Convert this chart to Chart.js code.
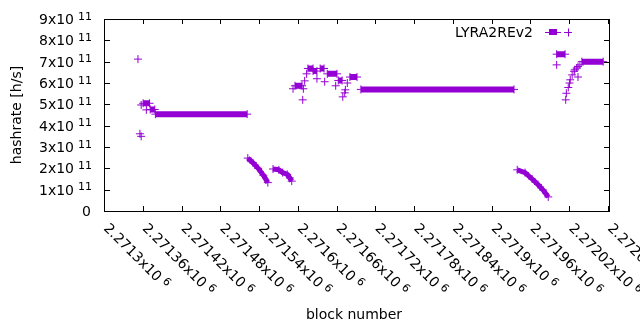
<!DOCTYPE html>
<html lang="en">
<head>
<meta charset="UTF-8">
<title>LYRA2REv2 hashrate</title>
<script src="https://cdn.jsdelivr.net/npm/chart.js"></script>
<style>
  html, body { margin: 0; padding: 0; background: #fff; }
  #chart { display: block; }
</style>
</head>
<body>
<canvas id="chart" width="640" height="330"></canvas>
<script>
const COLOR = '#9400d3';
const FONT = '"DejaVu Sans", sans-serif';

// axes
const blockTicks = [2271300, 2271360, 2271420, 2271480, 2271540, 2271600, 2271660,
                    2271720, 2271780, 2271840, 2271900, 2271960, 2272020, 2272080];
const blockTickLabels = ['2.2713', '2.27136', '2.27142', '2.27148', '2.27154', '2.2716', '2.27166',
                         '2.27172', '2.27178', '2.27184', '2.2719', '2.27196', '2.27202', '2.27208'];
const hashTicks = [0, 1e11, 2e11, 3e11, 4e11, 5e11, 6e11, 7e11, 8e11, 9e11];
const hashTickLabels = ['0', '1', '2', '3', '4', '5', '6', '7', '8', '9'];

// stretches where the hashrate stays constant: first block, last block, value
const runStart = [2271359, 2271370, 2271378, 2271594, 2271614, 2271622, 2271633, 2271644, 2271661, 2271679, 2271696, 2271999, 2272038];
const runEnd   = [2271369, 2271377, 2271520, 2271605, 2271622, 2271628, 2271639, 2271659, 2271667, 2271690, 2271933, 2272012, 2272071];
const runValue = [5.05e11, 4.76e11, 4.54e11, 5.87e11, 6.68e11, 6.56e11, 6.68e11, 6.43e11, 6.12e11, 6.28e11, 5.70e11, 7.35e11, 7.00e11];

// falling stretches
const slopeBlocks = [
  [2271521, 2271529, 2271537, 2271545, 2271552],
  [2271560, 2271569, 2271575, 2271582, 2271586, 2271589],
  [2271938, 2271950, 2271961, 2271970, 2271978, 2271986]
];
const slopeValues = [
  [2.48e11, 2.26e11, 2.00e11, 1.68e11, 1.33e11],
  [1.97e11, 1.93e11, 1.80e11, 1.72e11, 1.55e11, 1.40e11],
  [1.93e11, 1.80e11, 1.50e11, 1.24e11, 0.98e11, 0.66e11]
];

// single blocks
const pointBlocks = [2271351, 2271354, 2271356, 2271356, 2271364,
                     2271591, 2271607, 2271606, 2271609, 2271612, 2271628, 2271640, 2271657,
                     2271668, 2271671, 2271672, 2271675,
                     2271999, 2272013, 2272014, 2272017, 2272019, 2272020, 2272023, 2272026,
                     2272027, 2272030, 2272032, 2272032, 2272035];
const pointValues = [7.12e11, 3.62e11, 3.50e11, 4.97e11, 4.74e11,
                     5.73e11, 5.73e11, 5.21e11, 6.10e11, 6.43e11, 6.20e11, 6.06e11, 5.87e11,
                     5.35e11, 5.54e11, 5.68e11, 6.00e11,
                     6.85e11, 5.21e11, 5.52e11, 5.79e11, 6.00e11, 6.15e11, 6.38e11, 6.55e11,
                     6.62e11, 6.70e11, 6.28e11, 6.77e11, 6.85e11];

const runData = [];
runStart.forEach((b, i) => {
  runData.push({ x: b, y: runValue[i] }, { x: runEnd[i], y: runValue[i] }, { x: runEnd[i], y: null });
});
const slopeData = [];
slopeBlocks.forEach((bs, k) => {
  bs.forEach((b, i) => slopeData.push({ x: b, y: slopeValues[k][i] }));
  slopeData.push({ x: bs[bs.length - 1], y: null });
});
const pointData = pointBlocks.map((b, i) => ({ x: b, y: pointValues[i] }));

const marker = {
  borderColor: COLOR, backgroundColor: COLOR,
  pointStyle: 'cross', pointRadius: 4, pointBorderWidth: 1,
  pointBorderColor: COLOR, pointBackgroundColor: COLOR
};

const gnuplotFrame = {
  id: 'gnuplotFrame',
  afterDraw(chart) {
    const { ctx, chartArea: a } = chart;
    const x = chart.scales.x, y = chart.scales.y;
    ctx.save();
    ctx.strokeStyle = '#000';
    ctx.lineWidth = 1;
    ctx.strokeRect(a.left - 0.5, a.top + 0.5, a.right - a.left + 1, a.bottom - a.top);

    // inward ticks on all four sides
    ctx.beginPath();
    blockTicks.forEach(b => {
      const px = Math.round(x.getPixelForValue(b)) - 0.5;
      ctx.moveTo(px, a.bottom); ctx.lineTo(px, a.bottom - 5);
      ctx.moveTo(px, a.top); ctx.lineTo(px, a.top + 5);
    });
    hashTicks.forEach(v => {
      const py = Math.round(y.getPixelForValue(v)) + 0.5;
      ctx.moveTo(a.left, py); ctx.lineTo(a.left + 5, py);
      ctx.moveTo(a.right, py); ctx.lineTo(a.right - 5, py);
    });
    ctx.stroke();

    ctx.fillStyle = '#000';
    // y tick labels: Nx10^11
    hashTicks.forEach((v, i) => {
      const py = y.getPixelForValue(v);
      ctx.textAlign = 'right';
      ctx.textBaseline = 'alphabetic';
      if (i === 0) {
        ctx.font = `14px ${FONT}`;
        ctx.fillText(hashTickLabels[i], 91, py + 5);
        return;
      }
      ctx.font = `11px ${FONT}`;
      const supW = ctx.measureText('11').width;
      ctx.fillText('11', 92, py + 0.5);
      ctx.font = `14px ${FONT}`;
      ctx.fillText(hashTickLabels[i] + 'x10', 92 - supW - 4, py + 5);
    });

    // x tick labels, rotated
    blockTicks.forEach((b, i) => {
      const px = x.getPixelForValue(b);
      ctx.save();
      ctx.translate(px - 2, a.bottom + 18);
      ctx.rotate(Math.PI / 4);
      ctx.textAlign = 'left';
      ctx.font = `14px ${FONT}`;
      const main = blockTickLabels[i] + 'x10';
      ctx.fillText(main, 0, 0);
      const w = ctx.measureText(main).width;
      ctx.font = `11px ${FONT}`;
      ctx.fillText('6', w + 4, -4.5);
      ctx.restore();
    });

    // axis titles
    ctx.font = `14px ${FONT}`;
    ctx.textAlign = 'center';
    ctx.textBaseline = 'middle';
    ctx.fillText('block number', 354, 315);
    ctx.save();
    ctx.translate(17, 115);
    ctx.rotate(-Math.PI / 2);
    ctx.fillText('hashrate [h/s]', 0, 0);
    ctx.restore();

    // key
    ctx.textAlign = 'right';
    ctx.textBaseline = 'alphabetic';
    ctx.fillText('LYRA2REv2', 533, 37);
    ctx.fillStyle = COLOR;
    ctx.strokeStyle = COLOR;
    ctx.fillRect(549, 29, 8, 6);
    ctx.beginPath();
    ctx.moveTo(545, 32.5); ctx.lineTo(561, 32.5);
    ctx.moveTo(564, 32.5); ctx.lineTo(572, 32.5);
    ctx.moveTo(568.5, 28.5); ctx.lineTo(568.5, 36.5);
    ctx.stroke();
    ctx.restore();
  }
};

new Chart(document.getElementById('chart'), {
  type: 'scatter',
  data: {
    datasets: [
      Object.assign({ label: 'LYRA2REv2', data: runData, showLine: true, borderWidth: 6, borderCapStyle: 'butt', spanGaps: false }, marker),
      Object.assign({ label: 'slopes', data: slopeData, showLine: true, borderWidth: 5, borderJoinStyle: 'round', spanGaps: false }, marker),
      Object.assign({ label: 'points', data: pointData, showLine: false }, marker)
    ]
  },
  options: {
    responsive: false,
    animation: false,
    devicePixelRatio: 1,
    layout: { padding: { left: 105, right: 31, top: 19, bottom: 119 } },
    plugins: { legend: { display: false }, tooltip: { enabled: false } },
    scales: {
      x: { type: 'linear', min: 2271300, max: 2272080, display: false },
      y: { type: 'linear', min: 0, max: 9e11, display: false }
    }
  },
  plugins: [gnuplotFrame]
});
</script>
</body>
</html>
